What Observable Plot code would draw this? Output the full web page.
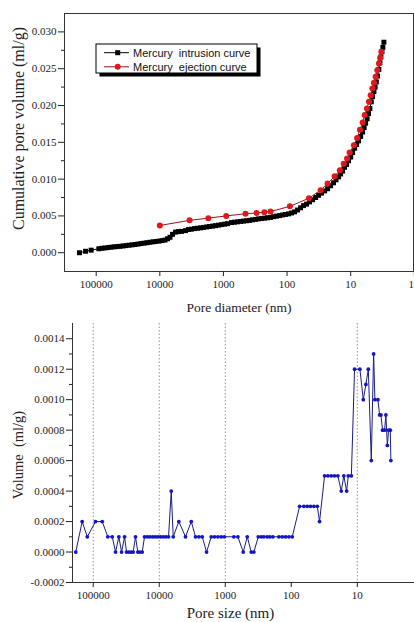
<!DOCTYPE html>
<html>
<head>
<meta charset="utf-8">
<script src="https://cdn.jsdelivr.net/npm/d3@7"></script>
<script src="https://cdn.jsdelivr.net/npm/@observablehq/plot@0.6"></script>
<style>
  html, body { margin: 0; padding: 0; background: #fff; }
  #chart svg { display: block; }
</style>
</head>
<body>
<div id="chart"></div>
<script>
// ---------- Top chart data: cumulative pore volume ----------
const intrusionDiameter = [183000,147000,120000,91000,81100,72800,65200,58500,52500,47100,42300,37900,34000,30500,27400,24500,22000,19800,17700,15900,14300,12800,11500,10300,9230,8280,7560,6910,6310,5660,5080,4560,3940,3540,3180,2850,2550,2290,2060,1840,1660,1480,1330,1190,1070,961,863,746,669,600,538,483,433,389,349,313,281,252,226,203,182,163,146,131,118,106,94.7,84.9,76.2,68.4,61.4,55.1,49.4,44.3,39.7,35.6,32.0,28.7,25.7,23.1,20.7,18.6,17.0,15.5,14.4,13.4,12.5,11.6,10.8,10.0,9.33,8.67,8.07,7.52,6.98,6.50,6.15,5.83,5.52,5.24,4.99,4.74,4.53,4.31,4.13,3.95,3.78,3.61,3.47,3.35,3.23,3.12,3.01];
const intrusionVolume = [0.0000,0.0002,0.00035,0.00054,0.0006,0.00065,0.0007,0.00075,0.0008,0.00083,0.00087,0.00092,0.00097,0.00102,0.00107,0.00112,0.00118,0.00124,0.0013,0.00136,0.00142,0.00148,0.00153,0.00158,0.00165,0.00172,0.0019,0.0021,0.0025,0.0028,0.00287,0.0029,0.0030,0.00315,0.0032,0.00328,0.00333,0.00338,0.00344,0.0035,0.00356,0.00362,0.00368,0.00375,0.00382,0.00388,0.00395,0.0041,0.00415,0.0042,0.00425,0.0043,0.00435,0.0044,0.00447,0.00453,0.0046,0.00465,0.0047,0.00475,0.0048,0.0049,0.00497,0.00505,0.00513,0.0052,0.00528,0.0054,0.00555,0.0058,0.0061,0.0064,0.0066,0.0069,0.0072,0.0075,0.0078,0.0081,0.0084,0.0087,0.0091,0.0095,0.0099,0.0103,0.0107,0.0111,0.0116,0.012,0.0125,0.0130,0.0136,0.0142,0.0147,0.0152,0.0158,0.0164,0.0170,0.0176,0.0182,0.0189,0.0196,0.0205,0.0212,0.0219,0.0225,0.0232,0.0240,0.0249,0.0258,0.0266,0.0273,0.0279,0.0286];
const ejectionDiameter = [10000,3410,1730,904,450,302,228,182,90.3,45.4,29.7,23.1,17.9,14.8,12.9,11.4,10.4,8.91,7.93,7.16,6.50,6.04,5.56,5.17,4.86,4.57,4.31,4.06,3.82,3.60,3.45,3.30];
const ejectionVolume = [0.0037,0.0044,0.0047,0.0050,0.0053,0.0054,0.0055,0.0056,0.0063,0.0074,0.0085,0.0094,0.0104,0.0112,0.0121,0.0128,0.0136,0.0146,0.0156,0.0167,0.0177,0.0187,0.0196,0.0205,0.0214,0.0223,0.0231,0.0239,0.0248,0.0257,0.0265,0.0273];

const topXTicks = [100000, 10000, 1000, 100, 10];
const topXEdgeTick = [1];
const topYTicks = [0, 0.005, 0.010, 0.015, 0.020, 0.025, 0.030];
const topYMinor = [0.0025, 0.0075, 0.0125, 0.0175, 0.0225, 0.0275];
const topXDomain = [315000, 1.03];
const topYDomain = [-0.00255, 0.0325];
const legendLabels = ["Mercury  intrusion curve", "Mercury  ejection curve"];

// ---------- Bottom chart data: pore size distribution ----------
const poreSize = [184000,147000,123000,92300,73100,60100,51500,45900,40900,37200,33500,31300,28900,26600,24800,22900,21100,19700,18100,16700,15200,13900,12600,11500,10500,9550,8700,7940,7230,6580,6140,5050,4000,3270,2820,2510,2230,1920,1630,1450,1290,1150,1030,741,644,534,464,404,369,316,285,260,231,211,190,154,137,122,109,96.6,74.8,64.4,57.3,51.1,45.5,40.4,37.3,31.3,27.9,24.8,22.1,19.7,17.5,16.0,14.5,13.7,12.3,11.0,9.14,8.11,7.41,6.81,6.14,5.66,5.41,4.87,4.59,4.39,4.14,3.86,3.69,3.51,3.35,3.16,3.10];
const poreVolume = [0.0000,0.0002,0.0001,0.0002,0.0002,0.0001,0.0001,0.0000,0.0001,0.0000,0.0001,0.0000,0.0000,0.0000,0.0000,0.0001,0.0000,0.0000,0.0000,0.0001,0.0001,0.0001,0.0001,0.0001,0.0001,0.0001,0.0001,0.0001,0.0001,0.0004,0.0001,0.0002,0.0001,0.0002,0.0001,0.0001,0.0001,0.0000,0.0001,0.0001,0.0001,0.0001,0.0001,0.0001,0.0001,0.0000,0.0001,0.0000,0.0000,0.0001,0.0001,0.0001,0.0001,0.0001,0.0001,0.0001,0.0001,0.0001,0.0001,0.0001,0.0003,0.0003,0.0003,0.0003,0.0003,0.0003,0.0002,0.0005,0.0005,0.0005,0.0005,0.0005,0.0004,0.0005,0.0004,0.0005,0.0005,0.0012,0.0012,0.0010,0.0011,0.0012,0.0006,0.0013,0.0010,0.0010,0.0009,0.0009,0.0008,0.0008,0.0009,0.0007,0.0008,0.0008,0.0006];

const botXTicks = [100000, 10000, 1000, 100, 10];
const botGrid = [100000, 10000, 1000, 10];
const botYTicks = [-0.0002, 0, 0.0002, 0.0004, 0.0006, 0.0008, 0.0010, 0.0012, 0.0014];
const botYMinor = [-0.0001, 0.0001, 0.0003, 0.0005, 0.0007, 0.0009, 0.0011, 0.0013];
const botXDomain = [206000, 1.36];
const botYDomain = [-0.0002, 0.0015];

// ---------- Build tables ----------
const intrusion = intrusionDiameter.map((d, i) => ({d, v: intrusionVolume[i]}));
const ejection = ejectionDiameter.map((d, i) => ({d, v: ejectionVolume[i]}));
const dist = poreSize.map((d, i) => ({d, v: poreVolume[i]}));

const serif = "'Liberation Serif', 'Times New Roman', serif";
const fmtNeg = (d, n) => d.toFixed(n).replace("\u2212", "-");

const topChart = Plot.plot({
  width: 414, height: 316,
  marginLeft: 64, marginRight: 1, marginTop: 13, marginBottom: 45,
  style: {fontFamily: serif, fontSize: "11px", background: "#fff", color: "#222"},
  x: {type: "log", domain: topXDomain},
  y: {domain: topYDomain},
  marks: [
    Plot.frame({stroke: "#333", strokeWidth: 1}),
    Plot.axisX({ticks: topXTicks, tickFormat: d => String(d), tickSize: 5, tickPadding: 4, label: null, fontSize: 11}),
    Plot.axisX({ticks: topXEdgeTick, tickFormat: () => "", tickSize: 5, label: null}),
    Plot.axisX({ticks: topXEdgeTick, tickFormat: d => String(d), tickSize: 0, tickPadding: 9, dx: -3, label: null, fontSize: 11}),
    Plot.axisY({ticks: topYTicks, tickFormat: d => fmtNeg(d, 3), tickSize: 6, tickPadding: 2, label: null, fontSize: 11}),
    Plot.axisY({ticks: topYMinor, tickFormat: () => "", tickSize: 3, label: null}),
    Plot.line(intrusion, {x: "d", y: "v", stroke: "#000", strokeWidth: 1}),
    Plot.dot(intrusion, {x: "d", y: "v", symbol: "square", r: 2.8, fill: "#000", stroke: "none"}),
    Plot.line(ejection, {x: "d", y: "v", stroke: "#a01010", strokeWidth: 1}),
    Plot.dot(ejection, {x: "d", y: "v", r: 3, fill: "#e0181c", stroke: "none"}),
    Plot.text(["Cumulative pore volume (ml/g)"], {frameAnchor: "left", dx: -46, dy: -14, rotate: -90, textAnchor: "middle", lineAnchor: "middle", fontSize: 16, fill: "#222"}),
    Plot.text(["Pore diameter (nm)"], {frameAnchor: "bottom", dy: 36, textAnchor: "middle", lineAnchor: "middle", fontSize: 13.5, fill: "#222"})
  ]
});

// legend inside the top chart
{
  const svg = d3.select(topChart);
  const g = svg.append("g").attr("class", "legend").attr("text-anchor", "start");
  g.append("rect").attr("x", 99.5).attr("y", 47.5).attr("width", 161).attr("height", 29).attr("fill", "#000");
  g.append("rect").attr("x", 96).attr("y", 44).attr("width", 161).attr("height", 29).attr("fill", "#fff").attr("stroke", "#000").attr("stroke-width", 1);
  const rows = [
    {y: 52.7, color: "#000", line: "#000", sym: "square"},
    {y: 66.8, color: "#e0181c", line: "#a01010", sym: "circle"}
  ];
  rows.forEach((r, i) => {
    g.append("line").attr("x1", 104).attr("x2", 129).attr("y1", r.y).attr("y2", r.y).attr("stroke", r.line).attr("stroke-width", 1);
    if (r.sym === "square") {
      g.append("rect").attr("x", 115.2).attr("y", r.y - 2.5).attr("width", 5).attr("height", 5).attr("fill", r.color);
    } else {
      g.append("circle").attr("cx", 117.7).attr("cy", r.y).attr("r", 3).attr("fill", r.color);
    }
    g.append("text").attr("x", 133).attr("y", r.y).attr("dy", "0.35em")
      .attr("text-anchor", "start")
      .attr("xml:space", "preserve")
      .attr("font-family", "'Liberation Sans', Arial, sans-serif").attr("font-size", 11)
      .attr("fill", "#111").style("white-space", "pre").text(legendLabels[i]);
  });
}

const botChart = Plot.plot({
  width: 414, height: 306,
  marginLeft: 72, marginRight: 0, marginTop: 7, marginBottom: 40,
  style: {fontFamily: serif, fontSize: "11px", background: "#fff", color: "#222"},
  x: {type: "log", domain: botXDomain},
  y: {domain: botYDomain},
  marks: [
    Plot.ruleX(botGrid, {stroke: "#777", strokeWidth: 0.8, strokeDasharray: "1.5,2"}),
    Plot.ruleY([botYDomain[0]], {stroke: "#333", strokeWidth: 1}),
    Plot.ruleX([botXDomain[0]], {stroke: "#333", strokeWidth: 1}),
    Plot.axisX({ticks: botXTicks, tickFormat: d => String(d), tickSize: 5, tickPadding: 4, label: null, fontSize: 11}),
    Plot.axisY({ticks: botYTicks, tickFormat: d => fmtNeg(d, 4), tickSize: 6, tickPadding: 2, label: null, fontSize: 11}),
    Plot.axisY({ticks: botYMinor, tickFormat: () => "", tickSize: 3, label: null}),
    Plot.line(dist, {x: "d", y: "v", stroke: "#1c1c80", strokeWidth: 1}),
    Plot.dot(dist, {x: "d", y: "v", r: 1.9, fill: "#1414c8", stroke: "none"}),
    Plot.text(["Volume  (ml/g)"], {frameAnchor: "left", dx: -54, dy: 2, rotate: -90, textAnchor: "middle", lineAnchor: "middle", fontSize: 14.5, fill: "#222"}),
    Plot.text(["Pore size (nm)"], {frameAnchor: "bottom", dx: -13, dy: 31, textAnchor: "middle", lineAnchor: "middle", fontSize: 15, fill: "#222"})
  ]
});

document.getElementById("chart").appendChild(topChart);
document.getElementById("chart").appendChild(botChart);
</script>
</body>
</html>
